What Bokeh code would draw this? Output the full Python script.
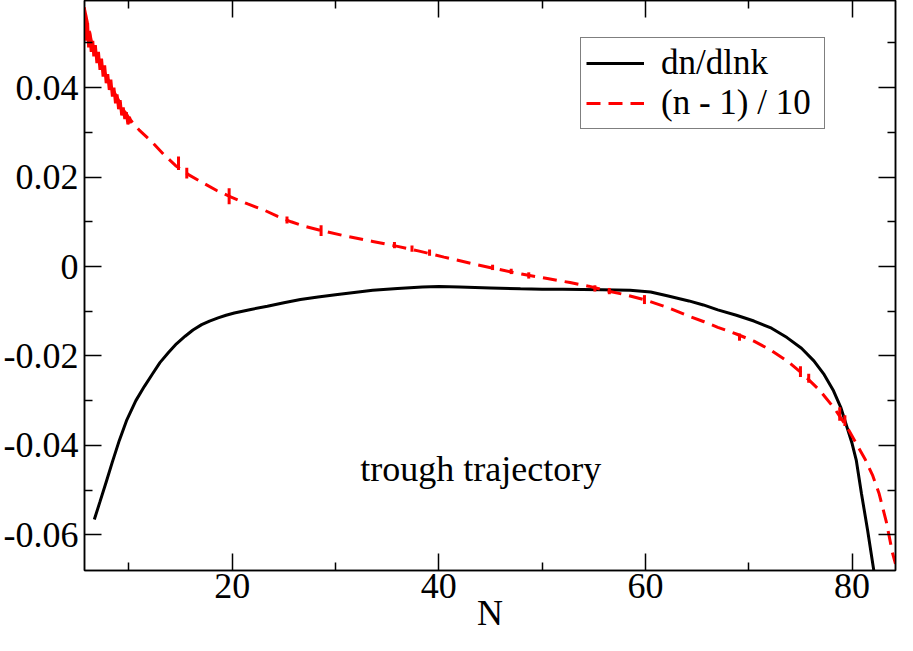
from bokeh.plotting import figure
from bokeh.models import Range1d, LinearAxis, FixedTicker, Legend, LegendItem
from bokeh.core.properties import value
from bokeh.embed import file_html
from bokeh.resources import INLINE

FONT = "Liberation Serif"

# dn/dlnk (black solid)
n_black = [6.65, 7.2, 7.8, 8.4, 9.07, 9.8, 10.67, 11.5, 12.26, 13.0, 13.85, 14.6,
           15.44, 16.2, 17.04, 17.8, 18.63, 19.4, 20.2, 21.8, 23.4, 25.0, 26.6,
           28.3, 30.0, 31.8, 33.6, 36.0, 38.4, 40.0, 42.0, 45.0, 47.9, 50.0, 52.0,
           55.8, 58.5, 60.5, 62.2, 64.2, 65.6, 67.0, 68.8, 70.5, 72.2, 73.7, 75.1,
           76.3, 77.3, 78.2, 78.9, 79.5, 80.0, 80.4, 80.9, 81.5, 82.1, 82.4]
dn_black = [-0.0566, -0.0526, -0.0482, -0.0437, -0.0389, -0.0343, -0.0300, -0.0268,
            -0.0241, -0.0215, -0.0192, -0.0173, -0.0156, -0.0142, -0.0130, -0.0122,
            -0.0115, -0.0109, -0.0104, -0.0096, -0.0089, -0.0081, -0.0074, -0.0068,
            -0.0063, -0.0058, -0.0053, -0.0049, -0.0046, -0.0045, -0.0046, -0.0048,
            -0.0050, -0.0051, -0.0051, -0.0052, -0.0053, -0.0057, -0.0066, -0.0077,
            -0.0086, -0.0097, -0.0109, -0.0122, -0.0138, -0.0159, -0.0183, -0.0211,
            -0.0242, -0.0278, -0.0315, -0.0359, -0.0396, -0.0433, -0.0507, -0.0590,
            -0.0680, -0.0720]

# (n - 1) / 10 (red dashed)
n_red = [5.7, 6.5, 7.5, 8.5, 9.5, 10.0, 11.0, 12.3, 13.4, 14.5, 15.8, 17.1, 18.5,
         19.9, 21.5, 23.1, 24.4, 25.7, 27.0, 28.5, 31.0, 33.6, 36.0, 38.0, 40.5,
         43.1, 45.5, 48.0, 50.5, 52.7, 54.5, 56.0, 58.0, 60.0, 62.2, 64.2, 65.6,
         67.0, 68.8, 70.5, 72.2, 73.7, 75.3, 76.9, 78.3, 79.5, 80.4, 81.3, 82.0,
         82.6, 83.3, 83.9, 84.2]
ns_red = [0.0575, 0.0490, 0.0440, 0.0393, 0.0350, 0.0332, 0.0305, 0.0277, 0.0250,
          0.0226, 0.0205, 0.0188, 0.0170, 0.0155, 0.0140, 0.0126, 0.0112, 0.0100,
          0.0090, 0.0081, 0.0068, 0.0056, 0.0045, 0.0035, 0.0021, 0.0007, -0.0005,
          -0.0017, -0.0027, -0.0036, -0.0044, -0.0053, -0.0063, -0.0075, -0.0092,
          -0.0111, -0.0123, -0.0136, -0.0151, -0.0167, -0.0188, -0.0211, -0.0242,
          -0.0278, -0.0318, -0.0359, -0.0396, -0.0433, -0.0468, -0.0507, -0.0570,
          -0.0640, -0.0665]

# noisy early part of the red curve
n_noise = [5.70, 5.75, 5.80, 5.90, 6.00, 6.10, 6.20, 6.35, 6.50, 6.60, 6.75, 6.90,
           7.05, 7.20, 7.35, 7.50, 7.65, 7.80, 7.95, 8.10, 8.25, 8.40, 8.55, 8.70,
           8.85, 9.00, 9.15, 9.30, 9.45, 9.60, 9.75, 9.90, 10.05, 10.20]
ns_noise = [0.0580, 0.0530, 0.0565, 0.0505, 0.0545, 0.0490, 0.0525, 0.0480, 0.0505,
            0.0470, 0.0495, 0.0455, 0.0480, 0.0440, 0.0465, 0.0425, 0.0450, 0.0410,
            0.0430, 0.0395, 0.0418, 0.0380, 0.0400, 0.0365, 0.0385, 0.0352, 0.0372,
            0.0338, 0.0356, 0.0330, 0.0345, 0.0318, 0.0335, 0.0320]

# short noise bursts along the red curve: position, centre, half height
burst_n = [14.8, 15.6, 19.7, 25.3, 28.6, 35.7, 37.4, 39.1, 45.2, 47.0, 48.7, 55.1,
           56.5, 59.9, 69.1, 75.0, 75.8, 78.8, 79.3]
burst_c = [0.0231, 0.0209, 0.0157, 0.0104, 0.0080, 0.0048, 0.0040, 0.0031, -0.0002,
           -0.0011, -0.0020, -0.0049, -0.0055, -0.0074, -0.0158, -0.0235, -0.0250,
           -0.0330, -0.0345]
burst_h = [0.0015, 0.0012, 0.0018, 0.0008, 0.0012, 0.0007, 0.0007, 0.0007, 0.0006,
           0.0006, 0.0007, 0.0007, 0.0007, 0.0010, 0.0008, 0.0012, 0.0010, 0.0015,
           0.0012]

x_major = [20, 40, 60, 80]
x_minor = [10, 30, 50, 70]
y_major = [-0.06, -0.04, -0.02, 0, 0.02, 0.04]
y_minor = [-0.05, -0.03, -0.01, 0.01, 0.03, 0.05]
y_labels = ["-0.06", "-0.04", "-0.02", "0", "0.02", "0.04"]

p = figure(width=897, height=635, output_backend="svg", toolbar_location=None,
           x_range=Range1d(5.7, 84.2), y_range=Range1d(-0.068, 0.0595),
           min_border_left=82, min_border_right=2, min_border_top=0,
           min_border_bottom=40, x_axis_location=None, y_axis_location=None)
p.xgrid.visible = False
p.ygrid.visible = False
p.outline_line_color = "black"
p.outline_line_width = 1.5
p.background_fill_color = "white"
p.border_fill_color = "white"

def style_axis(ax, show_labels):
    ax.axis_line_color = "black"
    ax.axis_line_width = 1.5
    ax.major_tick_in = 17
    ax.major_tick_out = 0
    ax.minor_tick_in = 8
    ax.minor_tick_out = 0
    ax.major_tick_line_width = 1.5
    ax.minor_tick_line_width = 1.5
    ax.major_tick_line_color = "black"
    ax.minor_tick_line_color = "black"
    ax.major_label_text_font = FONT
    ax.major_label_text_font_size = "36px"
    ax.major_label_text_color = "black"
    ax.major_label_standoff = 6
    if not show_labels:
        ax.major_label_text_font_size = "0px"
        ax.major_label_text_color = None
        ax.major_label_standoff = 0

xt = FixedTicker(ticks=x_major, minor_ticks=x_minor)
yt = FixedTicker(ticks=y_major, minor_ticks=y_minor)
overrides = {v: s for v, s in zip(y_major, y_labels)}

bottom = LinearAxis(ticker=xt, axis_label="N")
style_axis(bottom, True)
bottom.major_label_standoff = 3
bottom.major_label_text_line_height = 0.8
bottom.axis_label_text_font = FONT
bottom.axis_label_text_font_size = "36px"
bottom.axis_label_text_font_style = "normal"
bottom.axis_label_text_color = "black"
bottom.axis_label_text_line_height = 0.7
bottom.axis_label_standoff = -8
p.add_layout(bottom, "below")

top = LinearAxis(ticker=xt)
style_axis(top, False)
p.add_layout(top, "above")

left = LinearAxis(ticker=yt, major_label_overrides=overrides)
style_axis(left, True)
p.add_layout(left, "left")

right = LinearAxis(ticker=yt)
style_axis(right, False)
p.add_layout(right, "right")

r_black = p.line(n_black, dn_black, line_color="black", line_width=3)
r_red = p.line(n_red, ns_red, line_color="red", line_width=3, line_dash="14 8")
p.line(n_noise, ns_noise, line_color="red", line_width=3)
p.segment(x0=burst_n, y0=[c - h for c, h in zip(burst_c, burst_h)],
          x1=burst_n, y1=[c + h for c, h in zip(burst_c, burst_h)],
          line_color="red", line_width=3)

p.text(x=[32.4], y=[-0.0452], text=["trough trajectory"], text_font=value(FONT),
       text_font_size="36px", text_align="left", text_baseline="alphabetic",
       text_color="black")

legend = Legend(items=[LegendItem(label="dn/dlnk", renderers=[r_black]),
                       LegendItem(label="(n - 1) / 10", renderers=[r_red])],
                location=(496, 441))
legend.label_text_font = FONT
legend.label_text_font_size = "35px"
legend.label_text_color = "black"
legend.border_line_color = "black"
legend.border_line_width = 1.5
legend.background_fill_alpha = 1.0
legend.padding = 5
legend.spacing = 0
legend.glyph_width = 58
legend.glyph_height = 30
legend.label_height = 30
legend.label_standoff = 17
legend.label_width = 158
legend.margin = 0
p.add_layout(legend, "center")

open("out.html", "w").write(file_html(p, INLINE))
